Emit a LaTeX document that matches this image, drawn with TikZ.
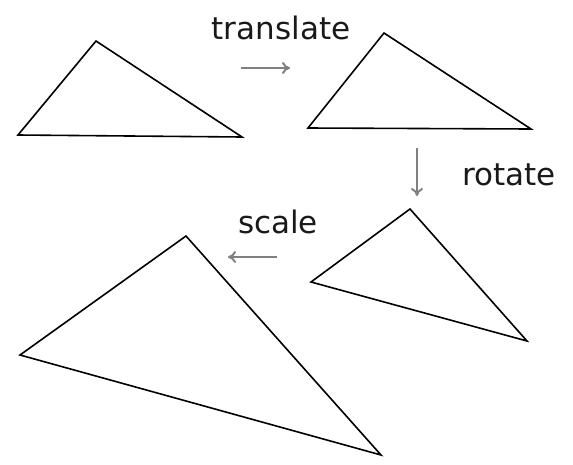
\documentclass[tikz,border=0pt]{standalone}
\usepackage{fontspec}
\setmainfont{DejaVu Sans}
\usetikzlibrary{arrows.meta}
\begin{document}
\begin{tikzpicture}[x=1pt,y=-1pt,
  tri/.style={draw=black,line width=1.6pt,line join=miter},
  op/.style={draw=black!50,line width=2pt,-{To[length=8pt,width=12pt]}},
  lbl/.style={font=\fontsize{31}{36}\selectfont,text=black!90,inner sep=0pt}]
\useasboundingbox (0,0) rectangle (573,464);
% triangles
\draw[tri] (96,41) -- (18,135) -- (242,137) -- cycle;
\draw[tri] (384,33) -- (308,128) -- (531,129) -- cycle;
\draw[tri] (410,209) -- (311,282) -- (527,341) -- cycle;
\draw[tri] (186,236) -- (20,355) -- (381,455) -- cycle;
% arrow endpoints
\coordinate (t1) at (241,68); \coordinate (t2) at (290,68);
\coordinate (r1) at (417,148); \coordinate (r2) at (417,196);
\coordinate (s1) at (277,257); \coordinate (s2) at (228,257);
\draw[op] (t1) -- (t2);
\draw[op] (r1) -- (r2);
\draw[op] (s1) -- (s2);
% labels
\node[lbl,anchor=base] (lt) at (281,39) {translate};
\node[lbl,anchor=base west] (lr) at (462,185) {rotate};
\node[lbl,anchor=base] (ls) at (278,233) {scale};
\end{tikzpicture}
\end{document}
